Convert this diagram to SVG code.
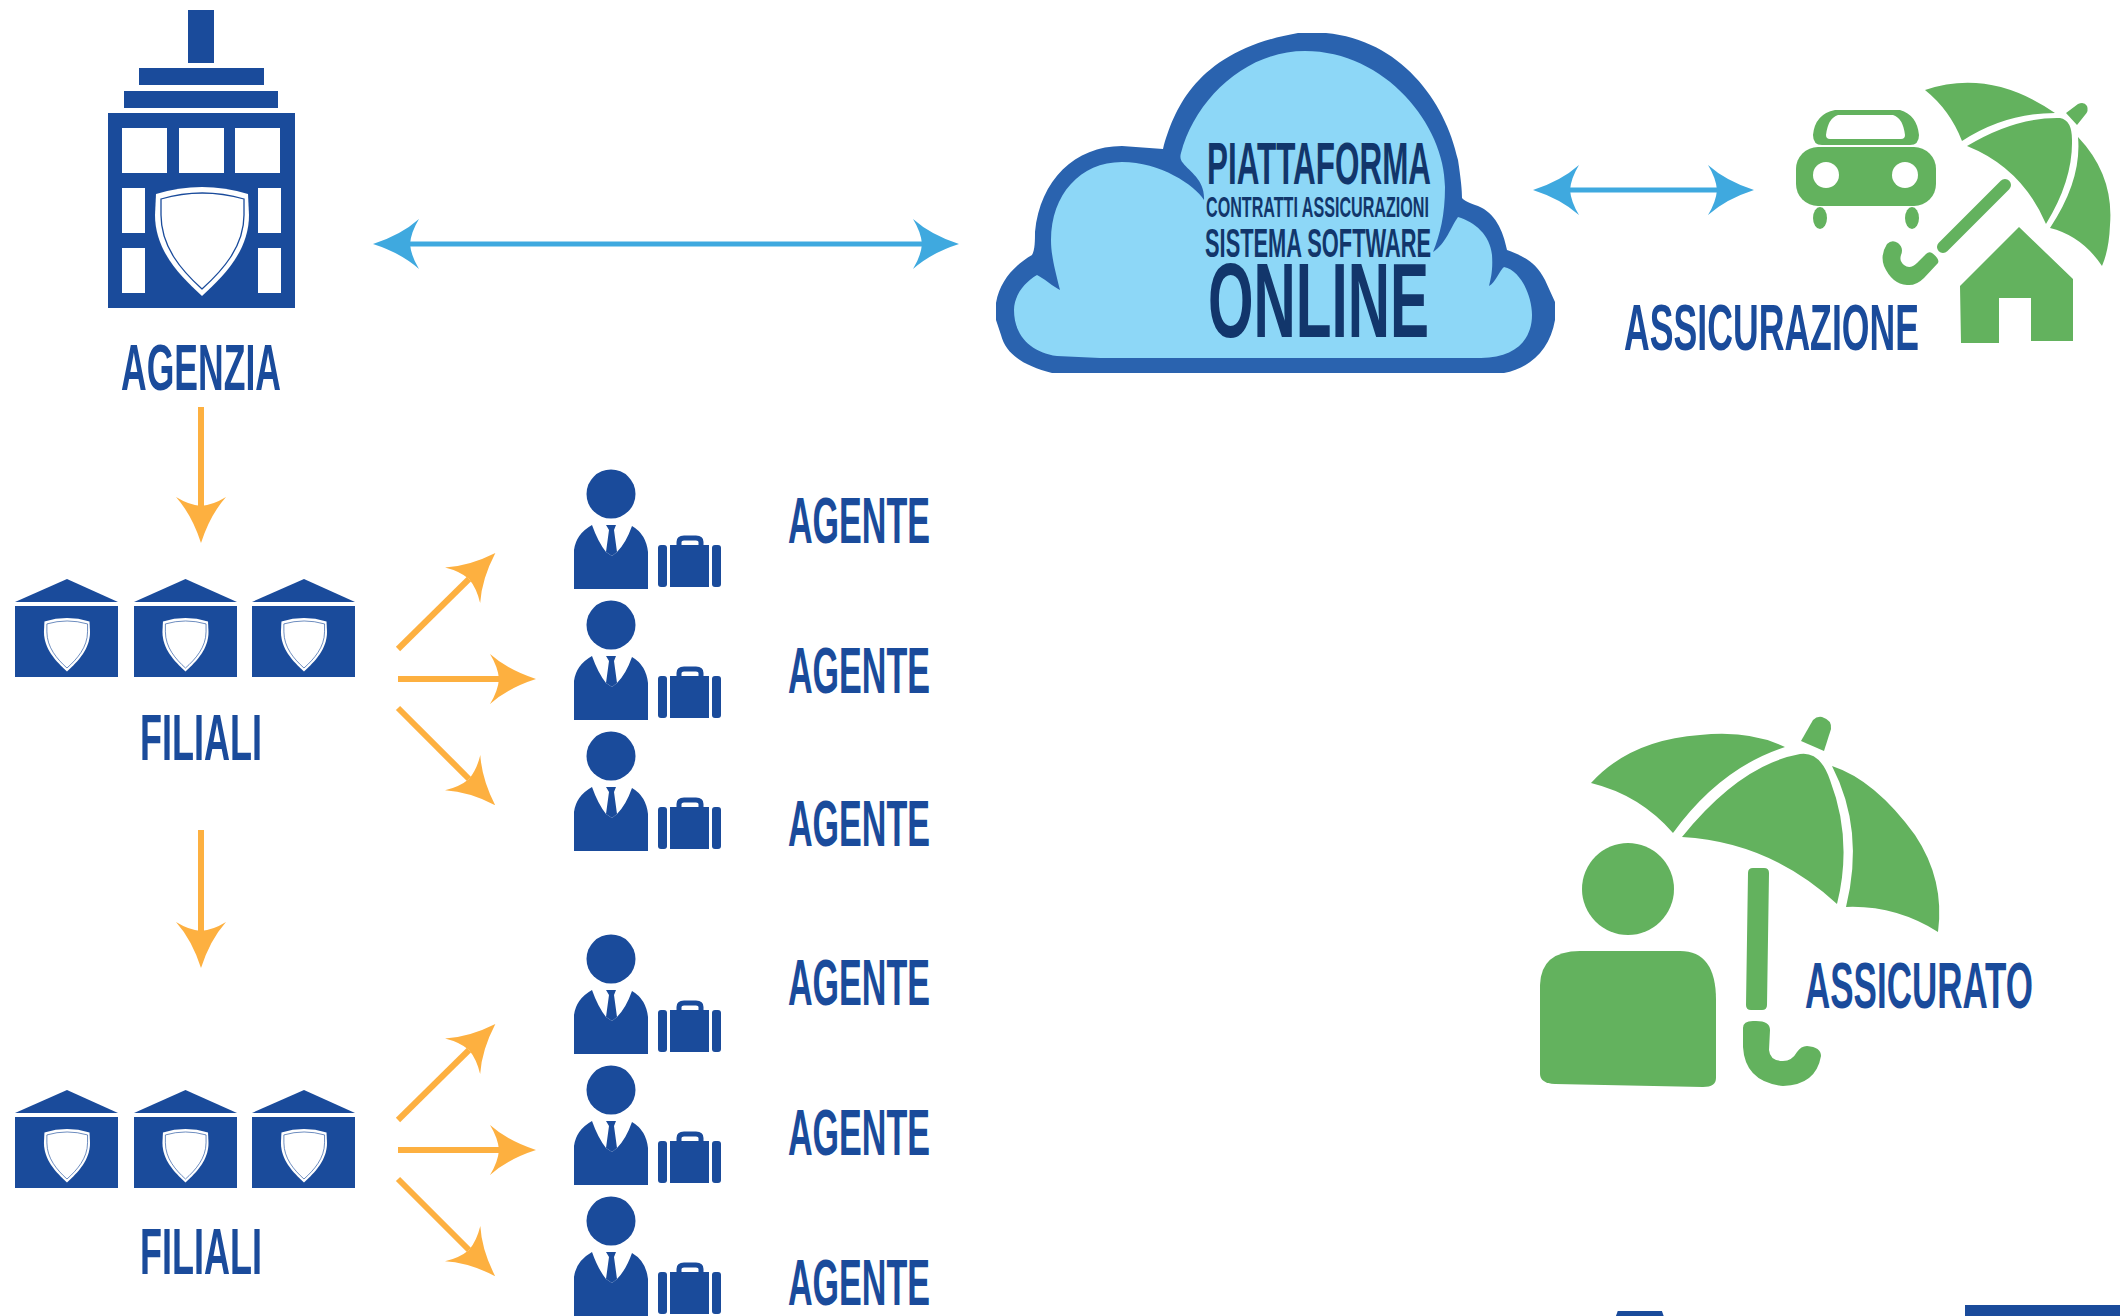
<svg xmlns="http://www.w3.org/2000/svg" xmlns:xlink="http://www.w3.org/1999/xlink" width="2120" height="1316" viewBox="0 0 2120 1316">
<style>
.b{fill:#1A4B9B}
.g{fill:#63B25E}
.t{font-family:"Liberation Sans",Arial,sans-serif;fill:#1A4B9B;font-size:65px;font-weight:700}
.d{font-family:"Liberation Sans",Arial,sans-serif;fill:#12366B;font-weight:700}
.blue{stroke:#3FA9DF;stroke-width:5;fill:none;marker-start:url(#hb);marker-end:url(#hb)}
.or{stroke:#FDB040;stroke-width:6;fill:none;marker-end:url(#ho)}
</style>
<defs>
<marker id="hb" markerUnits="userSpaceOnUse" markerWidth="50" markerHeight="52" viewBox="0 -26 50 52" refX="9" refY="0" orient="auto-start-reverse"><path fill="#3FA9DF" d="M46 0Q18-9 0-25Q8-12 9 0Q8 12 0 25Q18 9 46 0Z"/></marker>
<marker id="ho" markerUnits="userSpaceOnUse" markerWidth="50" markerHeight="52" viewBox="0 -26 50 52" refX="9" refY="0" orient="auto"><path fill="#FDB040" d="M46 0Q18-9 0-25Q8-12 9 0Q8 12 0 25Q18 9 46 0Z"/></marker>
<g id="shield">
<path fill="#fff" d="M156 194Q202 180 248 194L249 215C249 250 225 275 202 296C179 275 155 250 155 215Z"/>
<path fill="#fff" stroke="#1A4B9B" stroke-width="1.3" d="M161 199Q202 187 244 199L244 215C244 247 222 271 202 289C182 271 161 247 161 215Z"/>
</g>
<g id="branch">
<path class="b" d="M15 602L67 579L118 602Z"/><rect class="b" x="15" y="606" width="103" height="71"/>
<use xlink:href="#shield" href="#shield" transform="translate(-32 526.4) scale(.49)"/>
<path class="b" d="M134 602L185.500 579L237 602Z"/><rect class="b" x="134" y="606" width="103" height="71"/>
<use xlink:href="#shield" href="#shield" transform="translate(86.500 526.4) scale(.49)"/>
<path class="b" d="M252 602L304 579L355 602Z"/><rect class="b" x="252" y="606" width="103" height="71"/>
<use xlink:href="#shield" href="#shield" transform="translate(205 526.4) scale(.49)"/>
</g>
<g id="agent">
<circle class="b" cx="611" cy="494" r="24.500"/>
<path class="b" d="M574 589V550Q576 534 592 525Q598 542 606 552L612 556L617 552Q626 543 632 526Q646 534 648 552V589Z"/>
<path class="b" d="M606 525H616L614 530L617 552L612 556L606 552L609 530Z"/>
<rect class="b" x="658" y="545" width="9" height="42" rx="3"/>
<rect class="b" x="670" y="545" width="39" height="42"/>
<rect class="b" x="712" y="545" width="9" height="42" rx="3"/>
<path d="M679 546V542Q679 538 684 538H696Q701 538 701 542V546" fill="none" stroke="#1A4B9B" stroke-width="5"/>
</g>
</defs>

<g id="connectors">
<path class="blue" d="M410 244H922"/>
<path class="blue" d="M1570 190H1717"/>
<path class="or" d="M201 407V506"/>
<path class="or" d="M201 830V931"/>
<path class="or" d="M398 649L469 579"/>
<path class="or" d="M398 679H499"/>
<path class="or" d="M398 708L469 779"/>
<path class="or" d="M398 1120L469 1050"/>
<path class="or" d="M398 1150H499"/>
<path class="or" d="M398 1179L469 1250"/>
</g>

<g id="agenzia">
<rect class="b" x="188" y="10" width="26" height="53"/>
<rect class="b" x="139" y="68" width="125" height="17"/>
<rect class="b" x="124" y="91" width="154" height="17"/>
<path class="b" fill-rule="evenodd" d="M108 113H295V308H108ZM122 128V173H167V128ZM179 128V173H224V128ZM235 128V173H280V128ZM122 188V233H145V188ZM122 248V293H145V248ZM258 188V233H281V188ZM258 248V293H281V248Z"/>
<use xlink:href="#shield" href="#shield"/>
<text class="t" x="121" y="390" textLength="160" lengthAdjust="spacingAndGlyphs">AGENZIA</text>
</g>

<g id="filiali-1">
<use xlink:href="#branch" href="#branch"/>
<text class="t" x="140" y="760" textLength="122" lengthAdjust="spacingAndGlyphs">FILIALI</text>
</g>
<g id="filiali-2">
<use xlink:href="#branch" href="#branch" y="511"/>
<text class="t" x="140" y="1274" textLength="122" lengthAdjust="spacingAndGlyphs">FILIALI</text>
</g>

<g id="agente-1"><use xlink:href="#agent" href="#agent"/><text class="t" x="788" y="543" textLength="142" lengthAdjust="spacingAndGlyphs">AGENTE</text></g>
<g id="agente-2"><use xlink:href="#agent" href="#agent" y="131"/><text class="t" x="788" y="693" textLength="142" lengthAdjust="spacingAndGlyphs">AGENTE</text></g>
<g id="agente-3"><use xlink:href="#agent" href="#agent" y="262"/><text class="t" x="788" y="846" textLength="142" lengthAdjust="spacingAndGlyphs">AGENTE</text></g>
<g id="agente-4"><use xlink:href="#agent" href="#agent" y="465"/><text class="t" x="788" y="1005" textLength="142" lengthAdjust="spacingAndGlyphs">AGENTE</text></g>
<g id="agente-5"><use xlink:href="#agent" href="#agent" y="596"/><text class="t" x="788" y="1155" textLength="142" lengthAdjust="spacingAndGlyphs">AGENTE</text></g>
<g id="agente-6"><use xlink:href="#agent" href="#agent" y="727"/><text class="t" x="788" y="1305" textLength="142" lengthAdjust="spacingAndGlyphs">AGENTE</text></g>

<g id="piattaforma">
<path fill="#2A63AF" d="M1163 149C1175 105 1200 50 1298 33H1326C1400 40 1445 100 1458 160C1461 180 1462 190 1462 198C1464 201 1470 203 1478 206C1495 213 1503 230 1507 250C1520 255 1535 260 1545 280L1555 302V320C1550 350 1530 368 1504 373H1052C1025 366 1006 355 1001 335L996 320V303C1000 280 1015 265 1032 255C1035 250 1035 240 1035 232C1040 180 1075 146 1122 146Z"/>
<path fill="#8DD7F7" d="M1181 153C1195 100 1245 51 1305 51C1385 51 1445 125 1445 187C1445 215 1440 235 1433 252C1445 245 1452 225 1458 217C1475 222 1490 235 1492 255C1493 270 1491 278 1489 286C1495 283 1500 270 1504 267C1520 270 1532 295 1532 315C1532 340 1515 358 1481 358H1100L1057 356C1030 352 1014 335 1014 310C1014 295 1025 282 1037 275C1042 277 1055 288 1060 290C1055 270 1051 255 1051 240C1051 195 1080 162 1122 162C1160 162 1195 185 1204 200C1205 180 1190 172 1183 163C1180 160 1180 156 1181 153Z"/>
<text class="d" x="1207" y="184" font-size="60" textLength="224" lengthAdjust="spacingAndGlyphs">PIATTAFORMA</text>
<text class="d" x="1206" y="217" font-size="30" textLength="223" lengthAdjust="spacingAndGlyphs">CONTRATTI ASSICURAZIONI</text>
<text class="d" x="1205" y="257" font-size="40" textLength="226" lengthAdjust="spacingAndGlyphs">SISTEMA SOFTWARE</text>
<text class="d" x="1208" y="337" font-size="106" textLength="221" lengthAdjust="spacingAndGlyphs">ONLINE</text>
</g>

<g id="assicurazione">
<path class="g" fill-rule="evenodd" d="M1813 135Q1815 114 1835 110H1900Q1917 115 1919 135Q1919 145 1910 145H1822Q1813 145 1813 135ZM1826 135Q1826 139 1830 139H1901Q1905 139 1905 135Q1903 118 1893 115H1838Q1828 118 1826 135Z"/>
<rect class="g" x="1796" y="147" width="140" height="59" rx="22"/>
<circle cx="1826" cy="175" r="13" fill="#fff"/><circle cx="1905" cy="175" r="13" fill="#fff"/>
<ellipse class="g" cx="1820" cy="218" rx="7" ry="11"/><ellipse class="g" cx="1912" cy="218" rx="7" ry="11"/>
<path class="g" d="M1925 90Q1990 68 2055 113Q2005 113 1962 141Q1950 110 1925 90Z"/>
<path class="g" d="M1967 146Q2015 117 2060 118Q2072 120 2072 140Q2073 180 2046 224Q2022 168 1967 146Z"/>
<path class="g" d="M2078 137Q2114 175 2110 225Q2109 250 2102 266Q2082 236 2050 228Q2082 180 2078 137Z"/>
<path class="g" d="M2066 113L2078 104Q2084 101 2087 106Q2089 111 2085 115L2077 125Z"/>
<path d="M2005 185L1943 247" fill="none" stroke="#63B25E" stroke-width="12" stroke-linecap="round"/>
<path class="g" d="M1938 263Q1940 259 1932 253Q1929 251 1926 254L1917 263Q1910 270 1904 265Q1899 261 1901 255Q1904 248 1898 243Q1892 239 1887 244Q1880 255 1884 266Q1892 284 1907 285Q1916 286 1924 278Z"/>
<path class="g" d="M2019 227L2073 279V341H2031V298H1999V343H1961L1960 286Z"/>
<text class="t" x="1624" y="350" textLength="295" lengthAdjust="spacingAndGlyphs">ASSICURAZIONE</text>
</g>

<g id="assicurato">
<path class="g" d="M1591 783Q1630 740 1700 735Q1750 730 1785 747Q1720 768 1673 833Q1640 795 1591 783Z"/>
<path class="g" d="M1682 837Q1740 765 1800 754Q1820 751 1830 780Q1853 840 1837 904Q1770 842 1682 837Z"/>
<path class="g" d="M1832 766Q1875 780 1915 835Q1945 880 1938 932Q1895 905 1846 907Q1865 830 1832 766Z"/>
<path class="g" d="M1801 741L1813 720Q1817 716 1822 717Q1832 720 1831 729L1824 751Z"/>
<path class="g" d="M1748 873Q1748 868 1753 868H1764Q1769 868 1769 873L1767 1005Q1767 1010 1762 1010H1751Q1746 1010 1746 1005Z"/>
<path class="g" d="M1743 1028Q1743 1021 1753 1021Q1770 1020 1770 1030L1769 1050Q1770 1061 1783 1061Q1792 1061 1797 1052Q1801 1046 1807 1046Q1821 1047 1821 1056Q1816 1085 1783 1086Q1745 1082 1743 1047Z"/>
<circle class="g" cx="1628" cy="889" r="46"/>
<path class="g" d="M1540 985Q1541 951 1580 951H1680Q1716 951 1716 1000V1078Q1716 1087 1703 1087L1555 1084Q1540 1083 1540 1074Z"/>
<text class="t" x="1805" y="1008" textLength="228" lengthAdjust="spacingAndGlyphs">ASSICURATO</text>
</g>

<g id="bordo-inferiore">
<text x="1546" y="1490" font-family="'Liberation Sans',Arial,sans-serif" font-size="260" font-weight="700" fill="#1A4B9B">A</text>
<rect class="b" x="1965" y="1305" width="155" height="11"/>
</g>
</svg>
